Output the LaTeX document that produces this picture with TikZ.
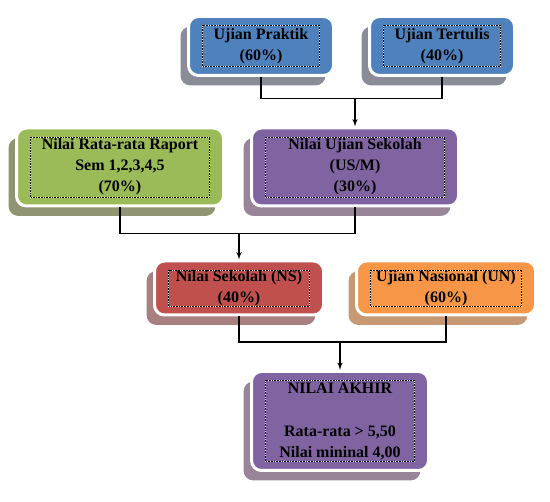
\documentclass[tikz,border=0pt]{standalone}
\usepackage{fontspec}
\setmainfont{Liberation Serif}
\usetikzlibrary{arrows,shadows}

\definecolor{ublue}{HTML}{4F81BD}
\definecolor{ugreen}{HTML}{9BBB59}
\definecolor{upurple}{HTML}{8064A2}
\definecolor{ured}{HTML}{C0504D}
\definecolor{uorange}{HTML}{F79646}
\definecolor{sblue}{RGB}{138,140,152}
\definecolor{sgreen}{RGB}{145,148,112}
\definecolor{spurple}{RGB}{152,134,152}
\definecolor{sred}{RGB}{168,128,128}
\definecolor{sorange}{RGB}{198,152,116}

\begin{document}
\begin{tikzpicture}[x=1pt,y=-1pt,node distance=121pt,>=latex',
  box/.style={rounded corners=10pt,draw=white,line width=3pt,align=center,
    font=\fontsize{16}{21}\selectfont\bfseries,text=black,
    path picture={
      \draw[sharp corners,white,line width=.8pt] ([shift={(14pt,-9pt)}]path picture bounding box.north west)
        rectangle ([shift={(-14pt,9pt)}]path picture bounding box.south east);
      \draw[sharp corners,black,line width=.8pt,dash pattern=on .8pt off .8pt] ([shift={(14pt,-9pt)}]path picture bounding box.north west)
        rectangle ([shift={(-14pt,9pt)}]path picture bounding box.south east);}},
  sh/.style={general shadow={fill=#1,shadow xshift=-8pt,shadow yshift=-10pt}},
  link/.style={line width=1.5pt}]
\useasboundingbox (0,0) rectangle (550,502);

\node[box,sh=sblue,fill=ublue,minimum width=145pt,minimum height=59pt] at (261,46) (b1) {Ujian Praktik\\(60\%)};
\node[box,sh=sblue,fill=ublue,minimum width=145pt,minimum height=59pt,right of=b1,xshift=60pt] (b2) {Ujian Tertulis\\(40\%)};
\node[box,sh=spurple,fill=upurple,minimum width=207pt,minimum height=78pt,below of=b1,xshift=94pt] (b4) {Nilai Ujian Sekolah\\(US/M)\\(30\%)};
\node[box,sh=sgreen,fill=ugreen,minimum width=207pt,minimum height=78pt,left of=b4,xshift=-114pt] (b3) {Nilai Rata-rata Raport\\Sem 1,2,3,4,5\\(70\%)};
\node[box,sh=sred,fill=ured,minimum width=169pt,minimum height=54pt,below of=b4,xshift=-116pt] (b5) {Nilai Sekolah (NS)\\(40\%)};
\node[box,sh=sorange,fill=uorange,minimum width=179pt,minimum height=54pt,right of=b5,xshift=86pt] (b6) {Ujian Nasional (UN)\\(60\%)};
\node[box,sh=spurple,fill=upurple,minimum width=177pt,minimum height=99pt,below of=b5,xshift=101pt,yshift=-12pt] (b7) {NILAI AKHIR\\[22pt]Rata-rata > 5,50\\Nilai mininal 4,00};

\path (b4.north) ++(0,-28) coordinate (j1);
\path (b5.north) ++(0,-26) coordinate (j2);
\path (b7.north) ++(0,-28) coordinate (j3);

\draw[link] (b1.south) |- (j1) -| (b2.south);
\draw[link,->] (j1) -- (b4.north);
\draw[link] (b3.south) |- (j2) -| (b4.south);
\draw[link,->] (j2) -- (b5.north);
\draw[link] (b5.south) |- (j3) -| (b6.south);
\draw[link,->] (j3) -- (b7.north);
    %
\end{tikzpicture}
\end{document}
